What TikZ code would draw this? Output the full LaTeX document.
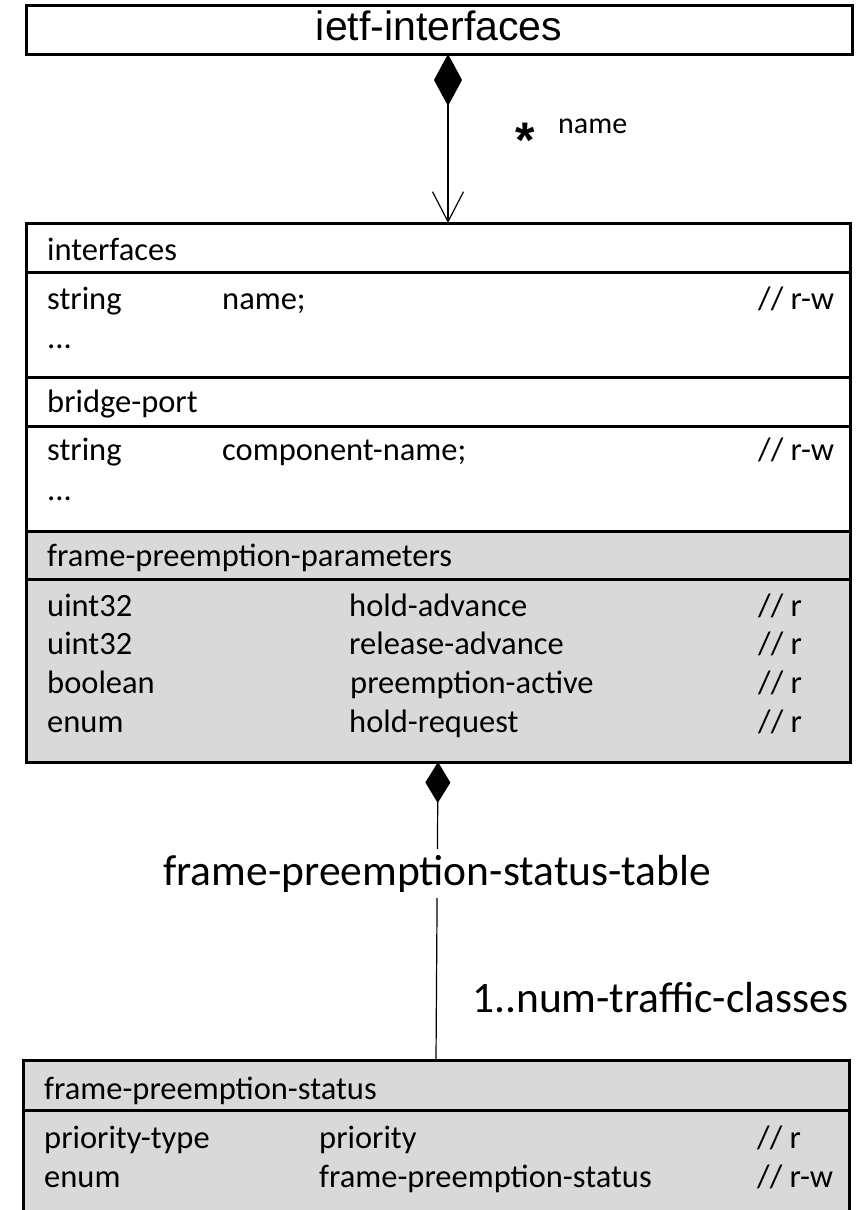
\documentclass[tikz,border=0pt]{standalone}
\usepackage{fontspec}
\setmainfont{Carlito}
\newfontfamily\titlefont{Liberation Sans}
\usetikzlibrary{arrows.meta,positioning}
\definecolor{paramgray}{RGB}{217,217,217}
\begin{document}
\begin{tikzpicture}[x=1pt,y=-1pt]
    \tikzset{section/.style={draw, line width=3pt, rectangle, outer sep=0pt, inner sep=0pt, minimum width=824pt},
             field/.style={anchor=base west, inner sep=0pt, font=\fontsize{32.5}{38}\selectfont},
             biglabel/.style={font=\fontsize{43.5}{52}\selectfont},
             conn/.style={draw, line width=1.2pt}}
    \useasboundingbox (0,0) rectangle (861,1210);

    % top class
    \node[section, minimum width=826pt, minimum height=49pt, anchor=north west, text height=29pt, text depth=8pt, font=\titlefont\fontsize{41}{49}\selectfont] at (26,5) (title) {ietf-interfaces};

    % interfaces / bridge-port / parameters
    \node[section, minimum height=49pt, anchor=north west] at (26,223) (ifhead) {};
    \node[section, minimum height=105pt, below=0pt of ifhead] (ifbody) {};
    \node[section, minimum height=49pt, below=0pt of ifbody] (bphead) {};
    \node[section, minimum height=105pt, below=0pt of bphead] (bpbody) {};
    \node[section, fill=paramgray, minimum height=48pt, below=0pt of bpbody] (fphead) {};
    \node[section, fill=paramgray, minimum height=183pt, below=0pt of fphead] (fpbody) {};

    \node[field] at (47,260) (if_name) {interfaces};
    \node[field] at (47,309) (if_type) {string};
    \node[field] at (222,309) (if_leaf) {name;};
    \node[field] at (758,309) (if_acc) {// r-w};
    \node[field] at (47,348) (if_more) {...};

    \node[field] at (47,412) (bp_name) {bridge-port};
    \node[field] at (47,460) (bp_type) {string};
    \node[field] at (222,460) (bp_leaf) {component-name;};
    \node[field] at (758,460) (bp_acc) {// r-w};
    \node[field] at (47,500) (bp_more) {...};

    \node[field] at (47,566) (fp_name) {frame-preemption-parameters};
    \node[field] at (47,616) (fp_type1) {uint32};
    \node[field] at (349,616) (fp_leaf1) {hold-advance};
    \node[field] at (758,616) (fp_acc1) {// r};
    \node[field] at (47,654) (fp_type2) {uint32};
    \node[field] at (349,654) (fp_leaf2) {release-advance};
    \node[field] at (758,654) (fp_acc2) {// r};
    \node[field] at (47,693) (fp_type3) {boolean};
    \node[field] at (350,693) (fp_leaf3) {preemption-active};
    \node[field] at (758,693) (fp_acc3) {// r};
    \node[field] at (47,732) (fp_type4) {enum};
    \node[field] at (349,732) (fp_leaf4) {hold-request};
    \node[field] at (758,732) (fp_acc4) {// r};

    % status class
    \node[section, fill=paramgray, minimum width=826pt, minimum height=50pt, anchor=north west] at (23,1060) (sthead) {};
    \node[section, fill=paramgray, minimum width=826pt, minimum height=104pt, below=0pt of sthead] (stbody) {};

    \node[field] at (44,1099) (st_name) {frame-preemption-status};
    \node[field] at (44,1148) (st_type1) {priority-type};
    \node[field] at (319,1148) (st_leaf1) {priority};
    \node[field] at (757,1148) (st_acc1) {// r};
    \node[field] at (44,1187) (st_type2) {enum};
    \node[field] at (319,1187) (st_leaf2) {frame-preemption-status};
    \node[field] at (757,1187) (st_acc2) {// r-w};

    % associations
    \coordinate (agg_1) at (448,54);
    \coordinate (nav_1) at (448,223);
    \draw[conn, {Diamond[length=52pt,width=28pt]}-{Straight Barb[length=30pt,width=31pt]}] (agg_1) -- (nav_1);
    \node[inner sep=0pt, font=\titlefont\bfseries\fontsize{50}{56}\selectfont] at (525,140) (mult_1) {*};
    \node[anchor=base west, inner sep=0pt, font=\fontsize{30}{36}\selectfont] at (558,133) (key_1) {name};

    \draw[conn, {Diamond[length=41pt,width=25pt]}-] (fpbody.south) -- node[pos=0.374, fill=white, inner sep=6pt, biglabel] (tbl) {frame-preemption-status-table} (sthead.north);
    \node[biglabel, anchor=base west, inner sep=0pt] at (472,1012) (mult_2) {1..num-traffic-classes};
\end{tikzpicture}
\end{document}
